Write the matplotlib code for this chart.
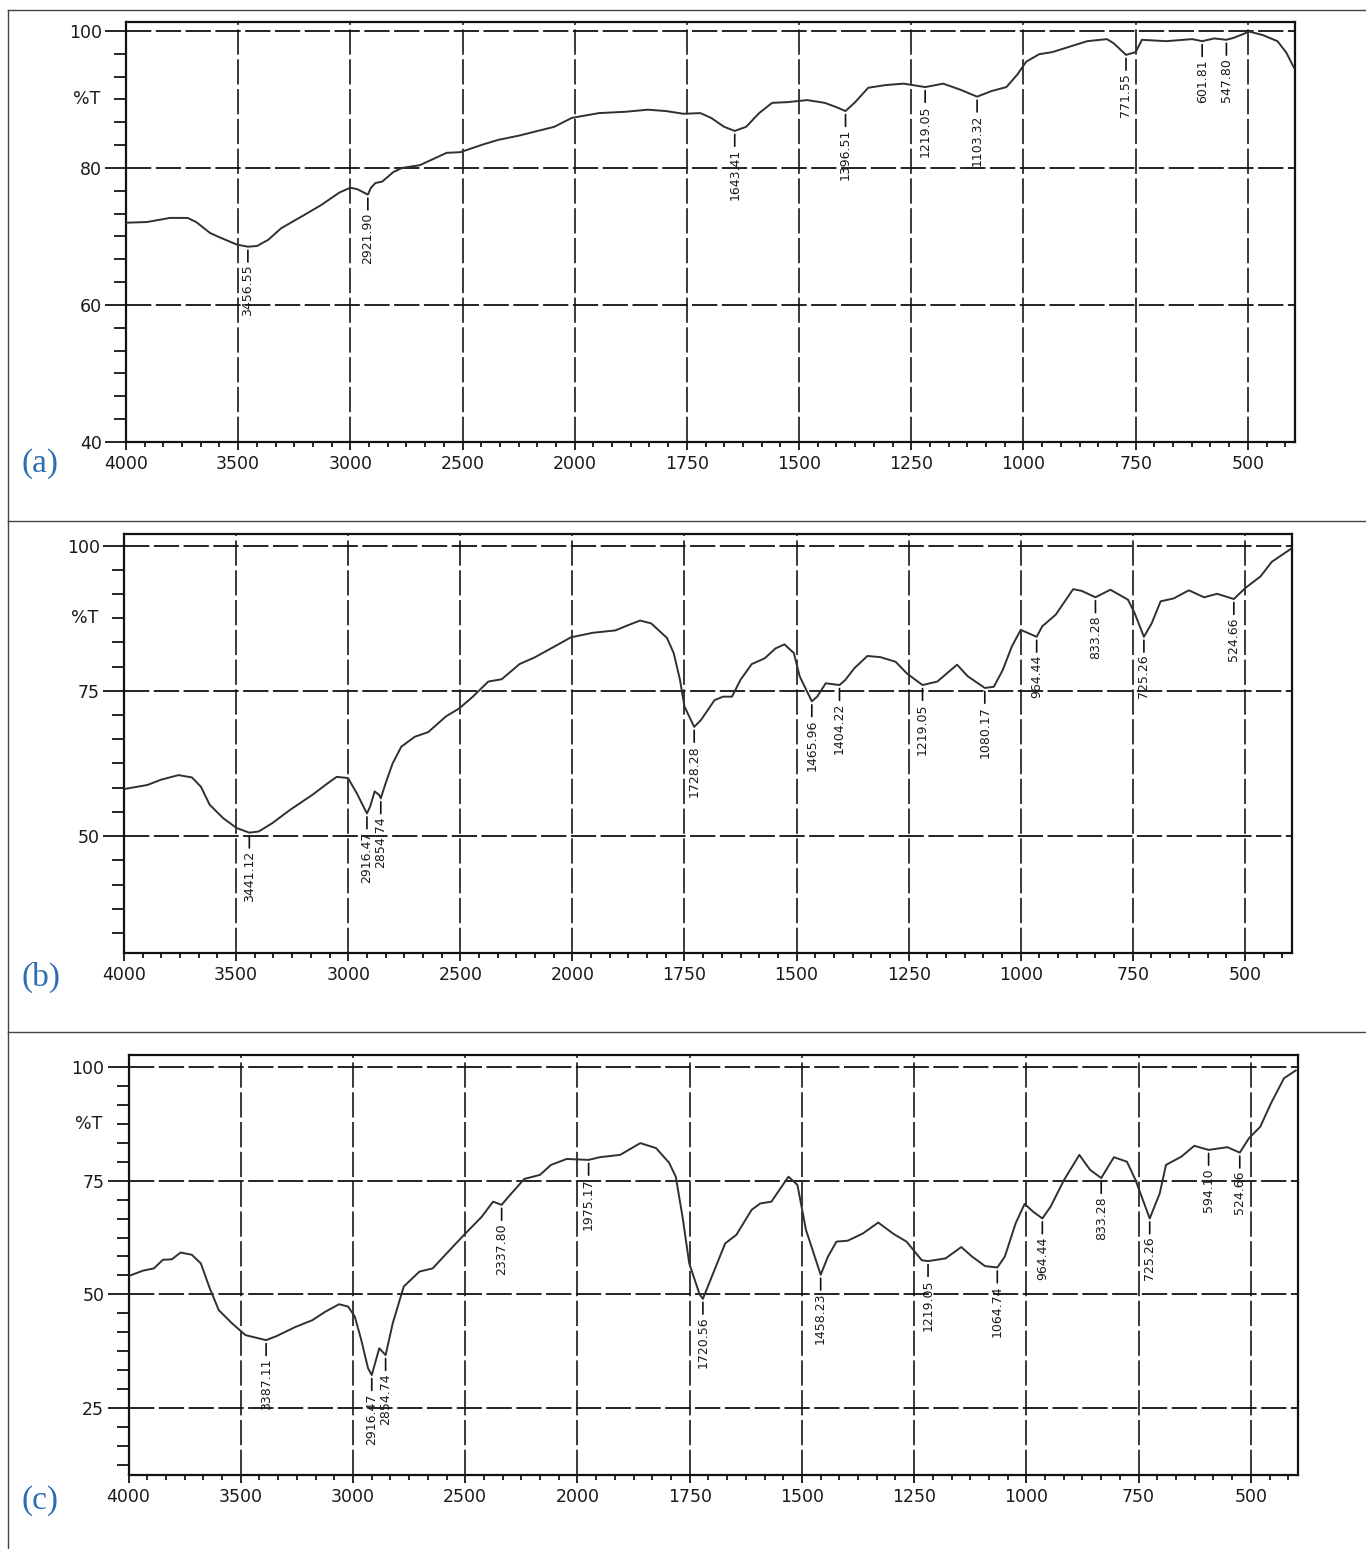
import numpy as np
import matplotlib
matplotlib.use('Agg')
import matplotlib.pyplot as plt
from matplotlib.lines import Line2D

plt.rcParams['font.family'] = ['DejaVu Sans']

# (a) spectrum, wavenumber (cm-1) / %T
wn_a = [4000, 3906, 3804, 3725, 3687, 3625, 3585, 3505, 3456.55, 3416, 3366, 3308, 3207, 3129,
        3049, 3000, 2969, 2921.90, 2908, 2888, 2858, 2808, 2769, 2690, 2571, 2509, 2411, 2340,
        2250, 2091, 2013, 1946, 1886, 1837, 1797, 1757, 1720, 1696, 1667, 1643.41, 1618, 1589,
        1560, 1526, 1482, 1443, 1418, 1396.51, 1375, 1346, 1306, 1267, 1238, 1219.05, 1179, 1140,
        1103.32, 1072, 1038, 1014, 994, 965, 936, 897, 858, 814, 799, 771.55, 750, 736, 682, 624,
        601.81, 575, 547.80, 531, 497, 467, 434, 414, 397]
T_a = [72.0, 72.1, 72.7, 72.7, 72.1, 70.5, 69.9, 68.8, 68.5, 68.6, 69.5, 71.2, 73.1, 74.6,
       76.4, 77.1, 76.9, 76.1, 77.1, 77.8, 78.0, 79.4, 80.0, 80.4, 82.2, 82.3, 83.4, 84.1,
       84.7, 86.0, 87.3, 88.0, 88.2, 88.5, 88.3, 87.9, 88.0, 87.3, 86.0, 85.4, 86.0, 88.0,
       89.5, 89.6, 89.9, 89.5, 88.9, 88.3, 89.6, 91.7, 92.1, 92.3, 92.0, 91.8, 92.3, 91.4,
       90.4, 91.2, 91.8, 93.6, 95.5, 96.6, 96.9, 97.7, 98.5, 98.8, 98.2, 96.5, 96.9, 98.7, 98.5, 98.8,
       98.5, 98.9, 98.7, 99.0, 99.9, 99.4, 98.5, 96.8, 94.6]
peaks_a = [3456.55, 2921.90, 1643.41, 1396.51, 1219.05, 1103.32, 771.55, 601.81, 547.80]

# (b) spectrum
wn_b = [4000, 3896, 3836, 3757, 3697, 3657, 3618, 3558, 3498, 3441.12, 3399, 3340, 3260, 3160,
        3081, 3051, 3001, 2962, 2916.47, 2902, 2882, 2862, 2854.74, 2833, 2802, 2763, 2703, 2643,
        2564, 2504, 2444, 2375, 2315, 2236, 2166, 2086, 2007, 1954, 1904, 1879, 1849, 1824, 1789,
        1774, 1760, 1750, 1728.28, 1713, 1683, 1664, 1644, 1625, 1600, 1571, 1547, 1527, 1506,
        1493, 1465.96, 1454, 1435, 1404.22, 1391, 1371, 1342, 1313, 1279, 1254, 1219.05, 1186,
        1142, 1118, 1080.17, 1060, 1040, 1020, 1000, 964.44, 952, 922, 883, 864, 833.28, 800, 761,
        746, 725.26, 708, 688, 659, 625, 591, 562, 524.66, 499, 465, 440, 398]
T_b = [58.1, 58.8, 59.7, 60.5, 60.1, 58.5, 55.4, 53.1, 51.4, 50.6, 50.8, 52.2, 54.5, 57.1,
       59.4, 60.2, 60.0, 57.4, 53.9, 55.1, 57.7, 57.1, 56.5, 59.1, 62.5, 65.4, 67.1, 67.9,
       70.6, 72.0, 74.0, 76.6, 77.0, 79.6, 80.8, 82.5, 84.2, 85.0, 85.4, 86.2, 87.1, 86.6, 84.1,
       81.5, 76.9, 72.3, 68.8, 70.0, 73.4, 74.0, 74.0, 76.9, 79.6, 80.6, 82.3, 83.0, 81.5,
       77.5, 73.2, 74.0, 76.3, 76.0, 76.9, 78.9, 81.0, 80.8, 80.0, 78.0, 76.0, 76.6,
       79.5, 77.5, 75.5, 75.7, 78.6, 82.6, 85.5, 84.3, 86.1, 88.1, 92.5, 92.2, 91.1, 92.4, 90.7,
       88.4, 84.3, 86.6, 90.4, 90.9, 92.3, 91.1, 91.7, 90.8, 92.7, 94.7, 97.2, 99.4]
peaks_b = [3441.12, 2916.47, 2854.74, 1728.28, 1465.96, 1404.22, 1219.05, 1080.17, 964.44,
           833.28, 725.26, 524.66]

# (c) spectrum
wn_c = [4000, 3936, 3887, 3847, 3807, 3768, 3718, 3678, 3638, 3598, 3539, 3479, 3387.11, 3340,
        3261, 3181, 3122, 3062, 3022, 2992, 2963, 2933, 2916.47, 2883, 2854.74, 2823, 2774, 2704,
        2645, 2585, 2505, 2426, 2376, 2337.80, 2307, 2237, 2167, 2118, 2048, 1975.17, 1950, 1905,
        1860, 1825, 1796, 1781, 1766, 1751, 1728, 1720.56, 1695, 1671, 1646, 1612, 1593, 1568,
        1530, 1510, 1491, 1458.23, 1442, 1423, 1398, 1364, 1330, 1296, 1267, 1233, 1219.05, 1180,
        1145, 1121, 1092, 1064.74, 1048, 1024, 1004, 985, 964.44, 946, 916, 882, 858, 833.28, 805,
        776, 757, 725.26, 703, 689, 655, 626, 594.10, 552, 524.66, 504, 479, 455, 426, 400]
T_c = [54.0, 55.2, 55.7, 57.6, 57.7, 59.2, 58.7, 56.8, 51.3, 46.5, 43.6, 41.0, 39.9, 40.8,
       42.7, 44.3, 46.2, 47.8, 47.3, 45.1, 39.9, 33.7, 32.2, 38.1, 36.6, 43.6, 51.7, 55.0,
       55.7, 58.9, 63.1, 67.1, 70.4, 69.7, 71.5, 75.4, 76.3, 78.5, 79.8, 79.6, 80.2, 80.7,
       83.3, 82.2, 79.0, 75.9, 67.1, 56.8, 50.0, 49.0, 55.3, 61.2, 63.1, 68.6, 70.0, 70.4,
       75.9, 74.1, 64.2, 54.3, 58.3, 61.6, 61.8, 63.4, 65.8, 63.3, 61.6, 57.5, 57.3, 57.9,
       60.4, 58.3, 56.2, 55.9, 58.3, 65.6, 69.9, 68.2, 66.7, 69.3, 75.2, 80.7, 77.4, 75.6, 80.2,
       79.2, 75.2, 66.7, 72.2, 78.5, 80.3, 82.7, 81.8, 82.4, 81.2, 84.4, 86.9, 92.1, 97.6, 99.3]
peaks_c = [3387.11, 2916.47, 2854.74, 2337.80, 1975.17, 1720.56, 1458.23, 1219.05, 1064.74,
           964.44, 833.28, 725.26, 594.10, 524.66]

x_major = [4000, 3500, 3000, 2500, 2000, 1750, 1500, 1250, 1000, 750, 500]


# wavenumber axis: 4000-2000 drawn at half the scale of 2000-400
def fwd(w):
    w = np.asarray(w, dtype=float)
    return np.where(w > 2000, 2000 + (w - 2000) / 2, w)


def inv(u):
    u = np.asarray(u, dtype=float)
    return np.where(u > 2000, 2000 + (u - 2000) * 2, u)


def draw_panel(ax, wn, T, peaks, ylo, yhi, ystep, tag, tag_y):
    wn = np.asarray(wn, dtype=float)
    T = np.asarray(T, dtype=float)
    ax.set_xscale('function', functions=(fwd, inv))
    ax.set_xlim(4000, 395)
    ax.set_ylim(ylo, yhi)

    ax.set_xticks(x_major)
    ax.set_xticklabels([str(v) for v in x_major])
    minor = np.concatenate([np.arange(4000, 2000, -500 / 6), np.arange(2000, 390, -250 / 6)])
    ax.set_xticks(minor, minor=True)

    y_major = np.arange(100, ylo - 0.01, -ystep)
    ax.set_yticks(y_major)
    ax.set_yticklabels(['%d' % v for v in y_major])
    ax.set_yticks(np.arange(100, ylo - 0.01, -ystep / 6), minor=True)

    ax.tick_params(axis='y', which='major', length=15, width=1.2, pad=2.5,
                   labelsize=12.5, labelcolor='#1a1a1a')
    ax.tick_params(axis='y', which='minor', length=8.5, width=1.2)
    ax.tick_params(axis='x', which='major', length=5.5, width=1.2, pad=4,
                   labelsize=12.5, labelcolor='#1a1a1a')
    ax.tick_params(axis='x', which='minor', length=3.5, width=1.2)
    for s in ax.spines.values():
        s.set_linewidth(1.6)
        s.set_color('#111111')

    # %T sits on a minor tick half way down the first step
    ax.annotate('%T', xy=(0, 100 - ystep / 2), xycoords=ax.get_yaxis_transform(),
                xytext=(-18.5, 0), textcoords='offset points', ha='right', va='center',
                fontsize=12.5, color='#1a1a1a')

    # dashed grid
    for x in x_major[1:]:
        ax.axvline(x, color='#2a2a2a', lw=1.3, ls=(0, (14, 2.5)), zorder=1)
    for y in y_major:
        if y > ylo + 0.5:
            ax.axhline(y, color='#111111', lw=1.3, ls=(0, (14, 2.5)), zorder=1)

    ax.plot(wn, T, color='#303030', lw=1.4, zorder=3)

    # peak markers with rotated wavenumber labels
    for p in peaks:
        i = int(np.argmin(np.abs(wn - p)))
        ax.annotate('%.2f' % p, xy=(p, T[i]), xytext=(0, -13), textcoords='offset points',
                    rotation=90, ha='center', va='top', fontsize=9, color='#1a1a1a',
                    arrowprops=dict(arrowstyle='-', color='#111111', lw=1.2,
                                    shrinkA=0, shrinkB=2.5), zorder=4)

    fig.text(0.0161, tag_y, tag, family='Liberation Serif', fontsize=24,
             color='#2E6DB4', ha='left', va='center')


fig = plt.figure(figsize=(13.66, 15.49), dpi=100)

ax_a = fig.add_axes([0.0922, 0.7147, 0.8558, 0.2711])
ax_b = fig.add_axes([0.0908, 0.3848, 0.8550, 0.2705])
ax_c = fig.add_axes([0.0941, 0.0478, 0.8561, 0.2711])

draw_panel(ax_a, wn_a, T_a, peaks_a, 40, 101.3, 20, '(a)', 1 - 464 / 1549)
draw_panel(ax_b, wn_b, T_b, peaks_b, 29.9, 102.0, 25, '(b)', 1 - 977 / 1549)
draw_panel(ax_c, wn_c, T_c, peaks_c, 10.2, 102.7, 25, '(c)', 1 - 1501 / 1549)

# table-like frame around the three panels
for y in [1 - 10 / 1549, 1 - 521 / 1549, 1 - 1032 / 1549]:
    fig.add_artist(Line2D([0.0062, 1.0], [y, y], color='#444444', lw=1.0,
                          transform=fig.transFigure))
fig.add_artist(Line2D([0.0062, 0.0062], [0.0, 1 - 10 / 1549], color='#444444', lw=1.0,
                      transform=fig.transFigure))

fig.savefig('out.png', dpi=100)
